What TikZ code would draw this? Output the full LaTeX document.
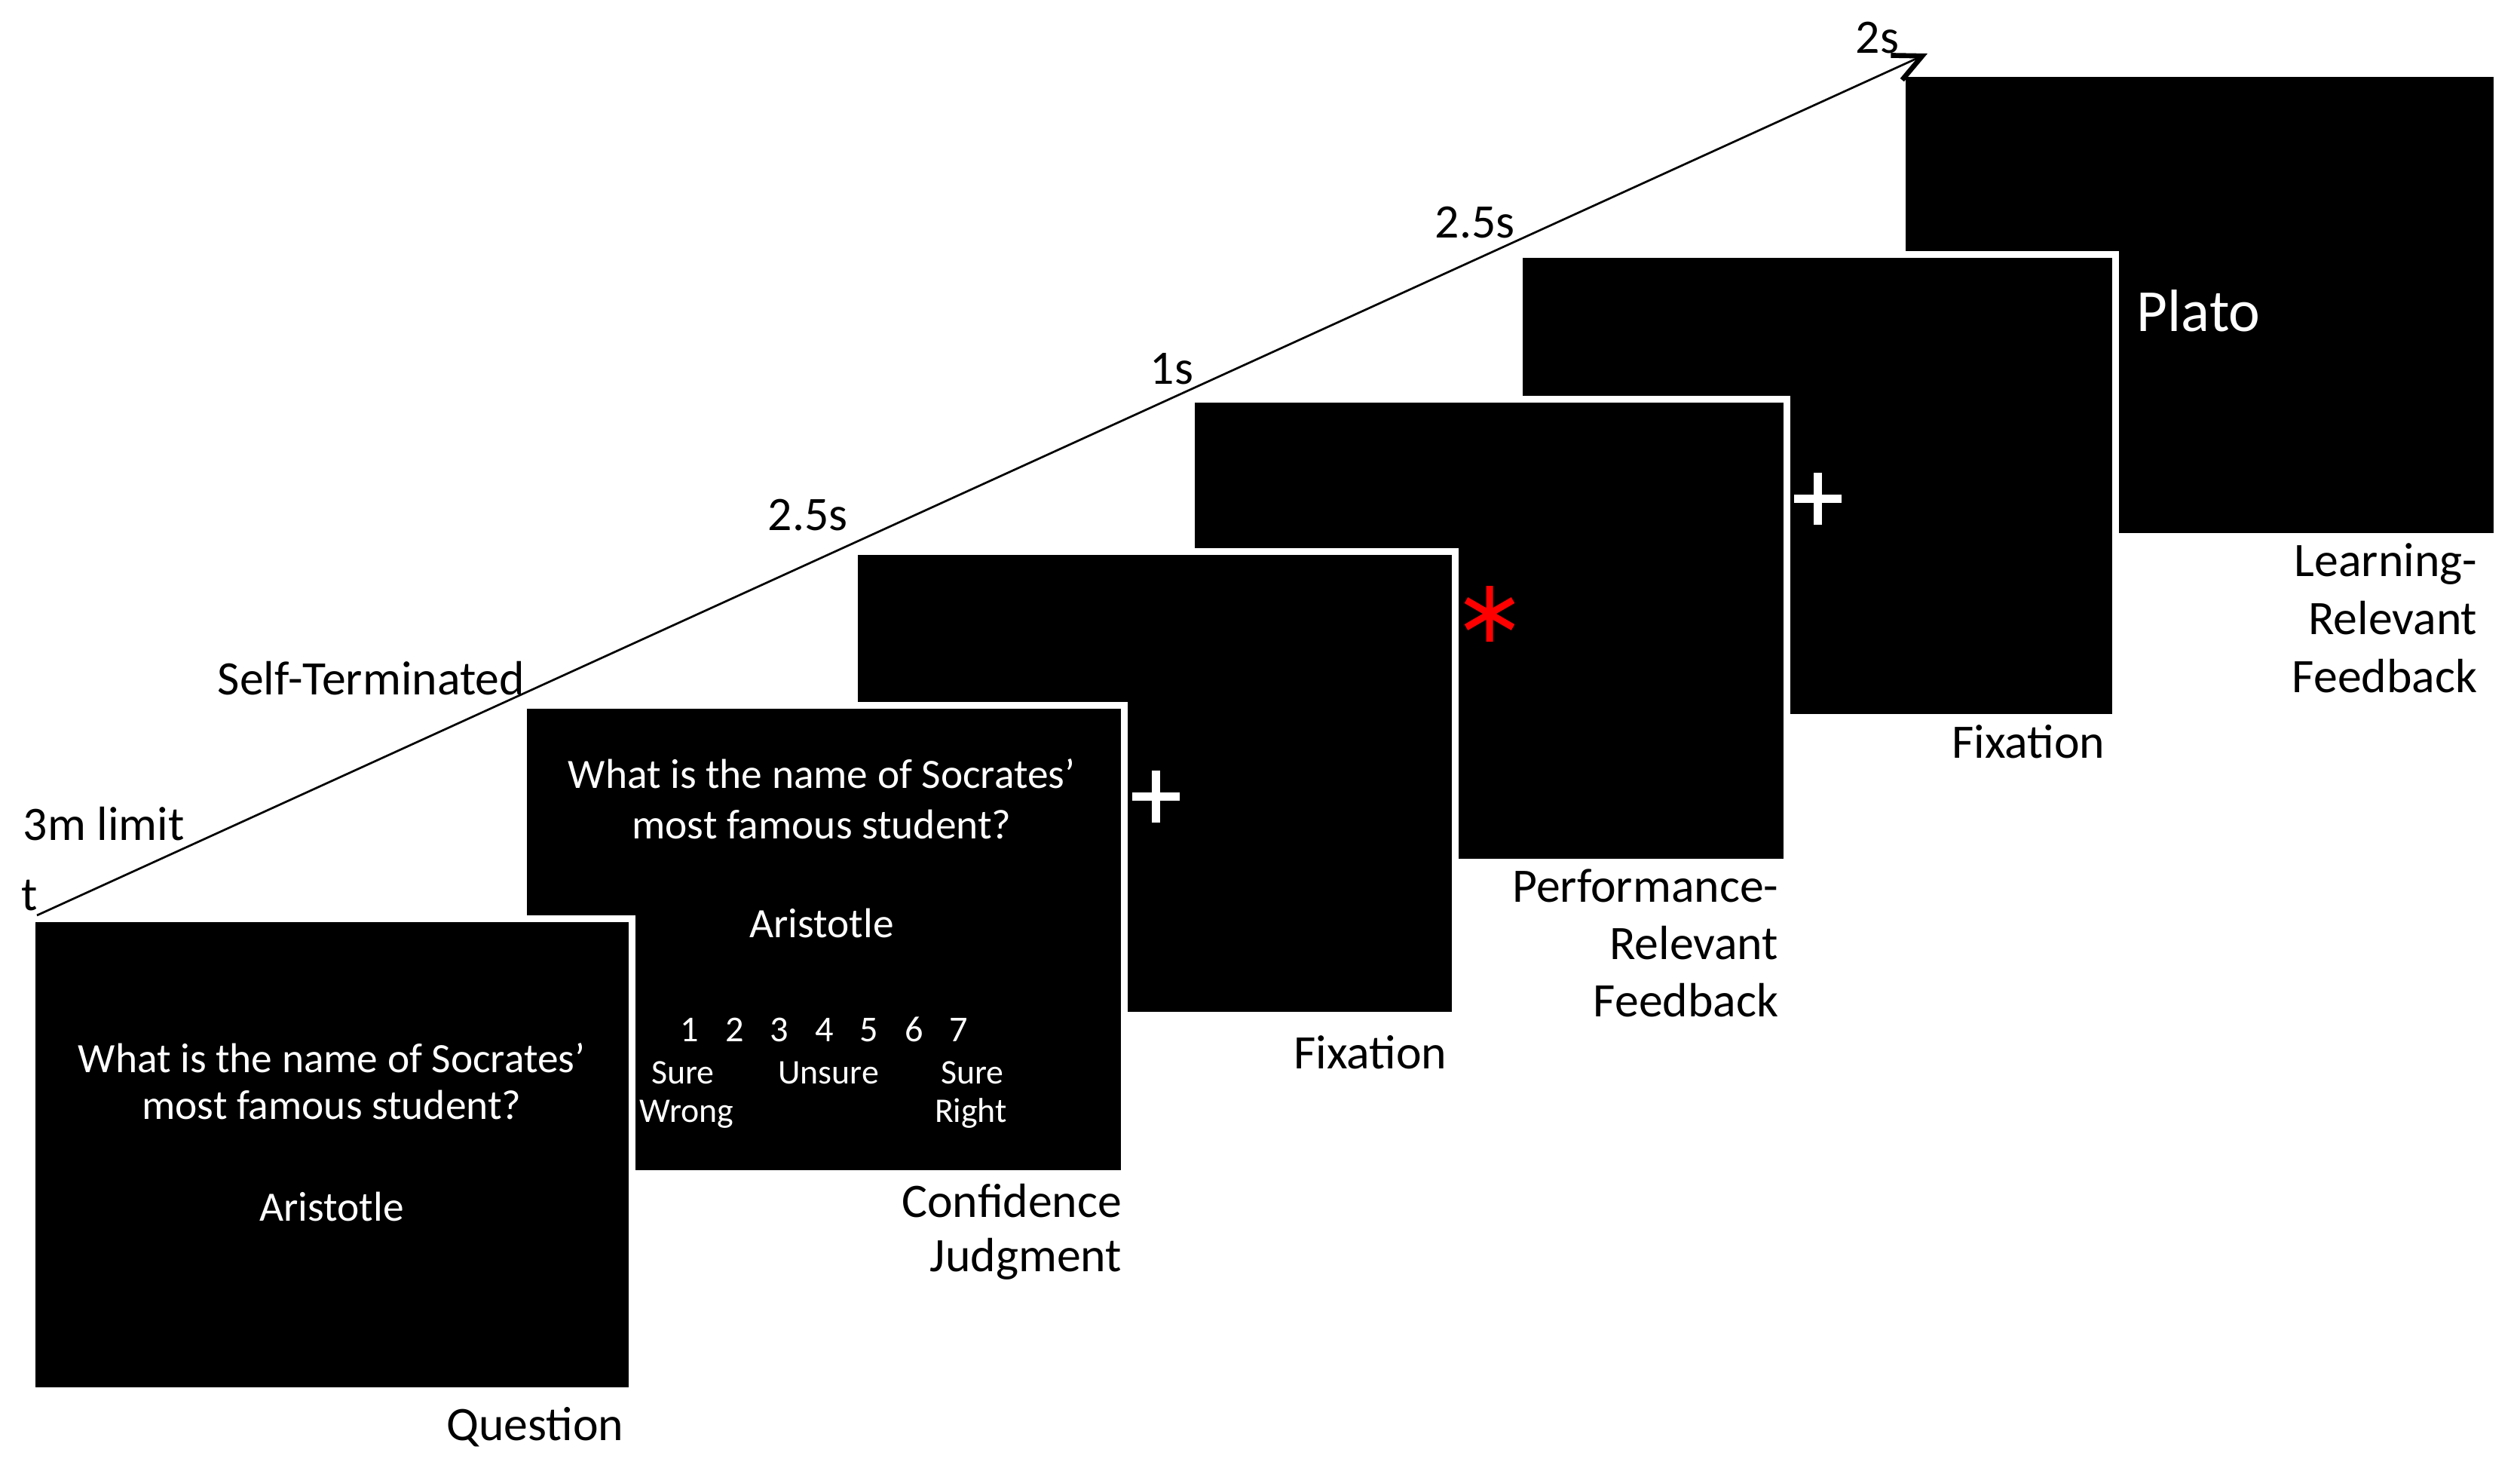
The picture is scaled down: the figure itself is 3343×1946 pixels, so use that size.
\documentclass[tikz,border=0pt]{standalone}
\usepackage{fontspec}
\setmainfont{Carlito}
\usetikzlibrary{arrows.meta}
\begin{document}
\begin{tikzpicture}[x=0.24pt,y=-0.24pt,
  screen/.style={rectangle, draw=white, fill=black, line width=2.16pt, inner sep=0pt, outer sep=0pt},
  lbl/.style={font=\fontsize{15.3}{18}\selectfont, inner sep=0pt, anchor=base east, text=black},
  tlbl/.style={font=\fontsize{15.3}{18}\selectfont, inner sep=0pt, anchor=base west, text=black},
  intext/.style={font=\fontsize{13.3}{16}\selectfont, inner sep=0pt, anchor=base, text=white},
  scl/.style={font=\fontsize{11}{13}\selectfont, inner sep=0pt, anchor=base, text=white},
  plusmark/.style={draw=white, line width=2.64pt},
  starmark/.style={draw=red, line width=2.16pt},
  timeline/.style={draw=black, line width=0.65pt, -{Straight Barb[length=9pt,width=8.6pt,line width=1.6pt]}}
]
\useasboundingbox (0,0) rectangle (3343,1946);

% screens, back to front
\node[screen, minimum width=189.36pt, minimum height=147.36pt] (s6) at (2918,404.5) {};
\node[screen, minimum width=189.84pt, minimum height=147.36pt] (s5) at (2411,644.5) {};
\node[screen, minimum width=189.6pt, minimum height=147.36pt] (s4) at (1975.5,836.5) {};
\node[screen, minimum width=191.28pt, minimum height=147.6pt] (s3) at (1532,1039) {};
\node[screen, minimum width=191.28pt, minimum height=149.04pt] (s2) at (1093,1246) {};
\node[screen, minimum width=191.04pt, minimum height=150.24pt] (s1) at (440.5,1531.5) {};

% screen contents
\node[intext] (q1a) at (440,1422) {What is the name of Socrates’};
\node[intext] (q1b) at (440,1484) {most famous student?};
\node[intext] (q1c) at (440,1619) {Aristotle};

\node[intext] (q2a) at (1090,1045) {What is the name of Socrates’};
\node[intext] (q2b) at (1090,1112) {most famous student?};
\node[intext] (q2c) at (1090,1243) {Aristotle};
\node[scl, font=\fontsize{11.6}{13}\selectfont] (digits) at (1093.5,1381) {\makebox[14.28pt]{1}\makebox[14.28pt]{2}\makebox[14.28pt]{3}\makebox[14.28pt]{4}\makebox[14.28pt]{5}\makebox[14.28pt]{6}\makebox[14.28pt]{7}};
\node[scl] (sw1) at (906,1437) {Sure};
\node[scl] (uns) at (1099,1437) {Unsure};
\node[scl] (sr1) at (1290,1437) {Sure};
\node[scl] (sw2) at (911,1488) {Wrong};
\node[scl] (sr2) at (1288,1488) {Right};

% fixation crosses
\draw[plusmark] (1502,1056) -- (1565,1056) (1533,1022) -- (1533,1091);
\draw[plusmark] (2380,661) -- (2443,661) (2411,627) -- (2411,696);

% red asterisk
\draw[starmark] (1976,777) -- (1976,851)
  (1945,796) -- (2007,832)
  (1945,832) -- (2007,796);

% Plato
\node[font=\fontsize{19}{22}\selectfont, inner sep=0pt, anchor=base west, text=white] (plato) at (2834,439) {Plato};

% screen labels
\node[lbl] (lq) at (828,1910) {Question};
\node[lbl] (lc1) at (1489,1614) {Confidence};
\node[lbl] (lc2) at (1489,1686) {Judgment};
\node[lbl] (lf1) at (1920,1417) {Fixation};
\node[lbl] (lp1) at (2360,1196) {Performance-};
\node[lbl] (lp2) at (2360,1272) {Relevant};
\node[lbl] (lp3) at (2360,1348) {Feedback};
\node[lbl] (lf2) at (2793,1005) {Fixation};
\node[lbl] (ll1) at (3287,764) {Learning-};
\node[lbl] (ll2) at (3287,841) {Relevant};
\node[lbl] (ll3) at (3287,918) {Feedback};

% time axis
\coordinate (t0) at (49,1214);
\coordinate (t1) at (2557,71);
\draw[timeline] (t0) -- (t1);

\node[tlbl] (tt) at (28,1207) {t};
\node[tlbl] (tlim) at (30,1114) {3m limit};
\node[tlbl] (tself) at (288,921) {Self-Terminated};
\node[tlbl] (ta) at (1018,703) {2.5s};
\node[tlbl] (tb) at (1525,509) {1s};
\node[tlbl] (tc) at (1903,315) {2.5s};
\node[tlbl] (td) at (2461,70) {2s};
\end{tikzpicture}
\end{document}
